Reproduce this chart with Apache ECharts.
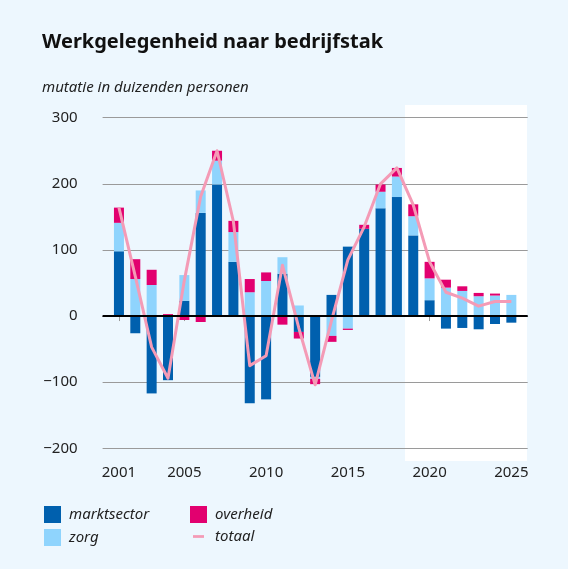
<!DOCTYPE html>
<html>
<head>
<meta charset="utf-8">
<script src="https://cdn.jsdelivr.net/npm/echarts@6/dist/echarts.min.js"></script>
<style>
  html, body { margin: 0; padding: 0; background: #edf7fe; }
  #chart { width: 568px; height: 569px; }
</style>
</head>
<body>
<div id="chart"></div>
<script>
// jaren + mutaties (x 1000 personen)
// 2000 en 2026 zijn lege randcategorieen
const years = ["2000", "2001", "2002", "2003", "2004", "2005", "2006", "2007", "2008", "2009",
  "2010", "2011", "2012", "2013", "2014", "2015", "2016", "2017", "2018", "2019",
  "2020", "2021", "2022", "2023", "2024", "2025", "2026"];
const marktsector = ["-", 98, -26, -117, -97, 23, 156, 199, 82, -132, -126, 64, -24, -92,
  32, 105, 132, 163, 180, 122, 24, -19, -18, -20, -12, -10, "-"];
const zorg = ["-", 43, 56, 47, 0, 39, 34, 36, 45, 36, 53, 25, 16, -3,
  -30, -19, 0, 25, 31, 29, 33, 43, 38, 30, 31, 32, "-"];
const overheid = ["-", 23, 30, 23, 3, -6, -9, 15, 17, 20, 13, -13, -10, -8,
  -9, -2, 6, 11, 13, 18, 25, 12, 7, 5, 3, 0, "-"];
const totaal = ["-", 164, 60, -47, -94, 54, 181, 250, 143, -75, -60, 77, -18, -104,
  -7, 85, 135, 200, 224, 168, 82, 36, 27, 15, 22, 22, "-"];
const xTicks = ["2001", "2005", "2010", "2015", "2020", "2025"];

const font = "Noto Sans";
const showTick = (i, v) => xTicks.indexOf(v) >= 0;

const chart = echarts.init(document.getElementById("chart"), null, { renderer: "canvas" });

const barSeries = (name, arr, color) => ({
  name: name,
  type: "bar",
  stack: "tot",
  barWidth: 10,
  itemStyle: { color: color },
  data: arr,
});

const legendText = { fontFamily: font, fontSize: 15, fontStyle: "italic", color: "#222", padding: [0, 0, 0, 3] };

const option = {
  backgroundColor: "#edf7fe",
  animation: false,
  textStyle: { fontFamily: font },
  title: [
    {
      text: "Werkgelegenheid naar bedrijfstak",
      left: 42, top: 32, padding: 0,
      textStyle: { fontFamily: font, fontSize: 20, fontWeight: "bold", color: "#111" },
    },
    {
      text: "mutatie in duizenden personen",
      left: 42, top: 80, padding: 0,
      textStyle: { fontFamily: font, fontSize: 15, fontStyle: "italic", fontWeight: "normal", color: "#222" },
    },
  ],
  graphic: [
    { type: "rect", z: -10, shape: { x: 405, y: 105, width: 122, height: 356 }, style: { fill: "#ffffff" } },
  ],
  legend: [
    {
      left: 44, top: 506, orient: "vertical", padding: 0, itemGap: 6,
      itemWidth: 17, itemHeight: 17, textStyle: legendText,
      data: [{ name: "marktsector", icon: "rect" }, { name: "zorg", icon: "rect" }],
    },
    {
      left: 190, top: 506, orient: "vertical", padding: 0,
      itemWidth: 17, itemHeight: 17, textStyle: legendText,
      data: [{ name: "overheid", icon: "rect" }],
    },
    {
      left: 193, top: 529, orient: "vertical", padding: 0,
      itemWidth: 11, itemHeight: 17,
      textStyle: Object.assign({}, legendText, { padding: [0, 0, 0, 6] }),
      data: [{ name: "totaal", icon: "path://M0,7h12v3h-12z" }],
    },
  ],
  grid: { left: 102.6, right: 40.3, top: 117.7, bottom: 120.7 },
  xAxis: {
    type: "category",
    data: years,
    boundaryGap: false,
    splitLine: { show: false },
    axisLine: { show: true, lineStyle: { color: "#9a9a9a", width: 1 } },
    axisTick: { show: true, interval: showTick, length: 5, lineStyle: { color: "#9a9a9a" } },
    axisLabel: {
      interval: showTick,
      margin: 17,
      fontFamily: font, fontSize: 15, color: "#222",
    },
  },
  yAxis: {
    type: "value",
    min: -200,
    max: 300,
    interval: 100,
    axisLine: { show: false },
    axisTick: { show: false },
    splitLine: { lineStyle: { color: "#9a9a9a", width: 1 } },
    axisLabel: {
      margin: 25,
      fontFamily: font, fontSize: 15, color: "#222",
      formatter: (v) => (v < 0 ? "\u2212" + Math.abs(v) : String(v)),
    },
  },
  series: [
    barSeries("marktsector", marktsector, "#0060ae"),
    barSeries("zorg", zorg, "#8fd4fd"),
    barSeries("overheid", overheid, "#e2006f"),
    {
      name: "totaal",
      type: "line",
      z: 4,
      symbol: "none",
      color: "#f49bb6",
      lineStyle: { width: 3, color: "#f49bb6", join: "round" },
      data: totaal,
      markLine: {
        silent: true,
        symbol: "none",
        label: { show: false },
        lineStyle: { color: "#000", width: 2, type: "solid" },
        data: [{ yAxis: 0 }],
      },
    },
  ],
};

chart.setOption(option);
</script>
</body>
</html>
